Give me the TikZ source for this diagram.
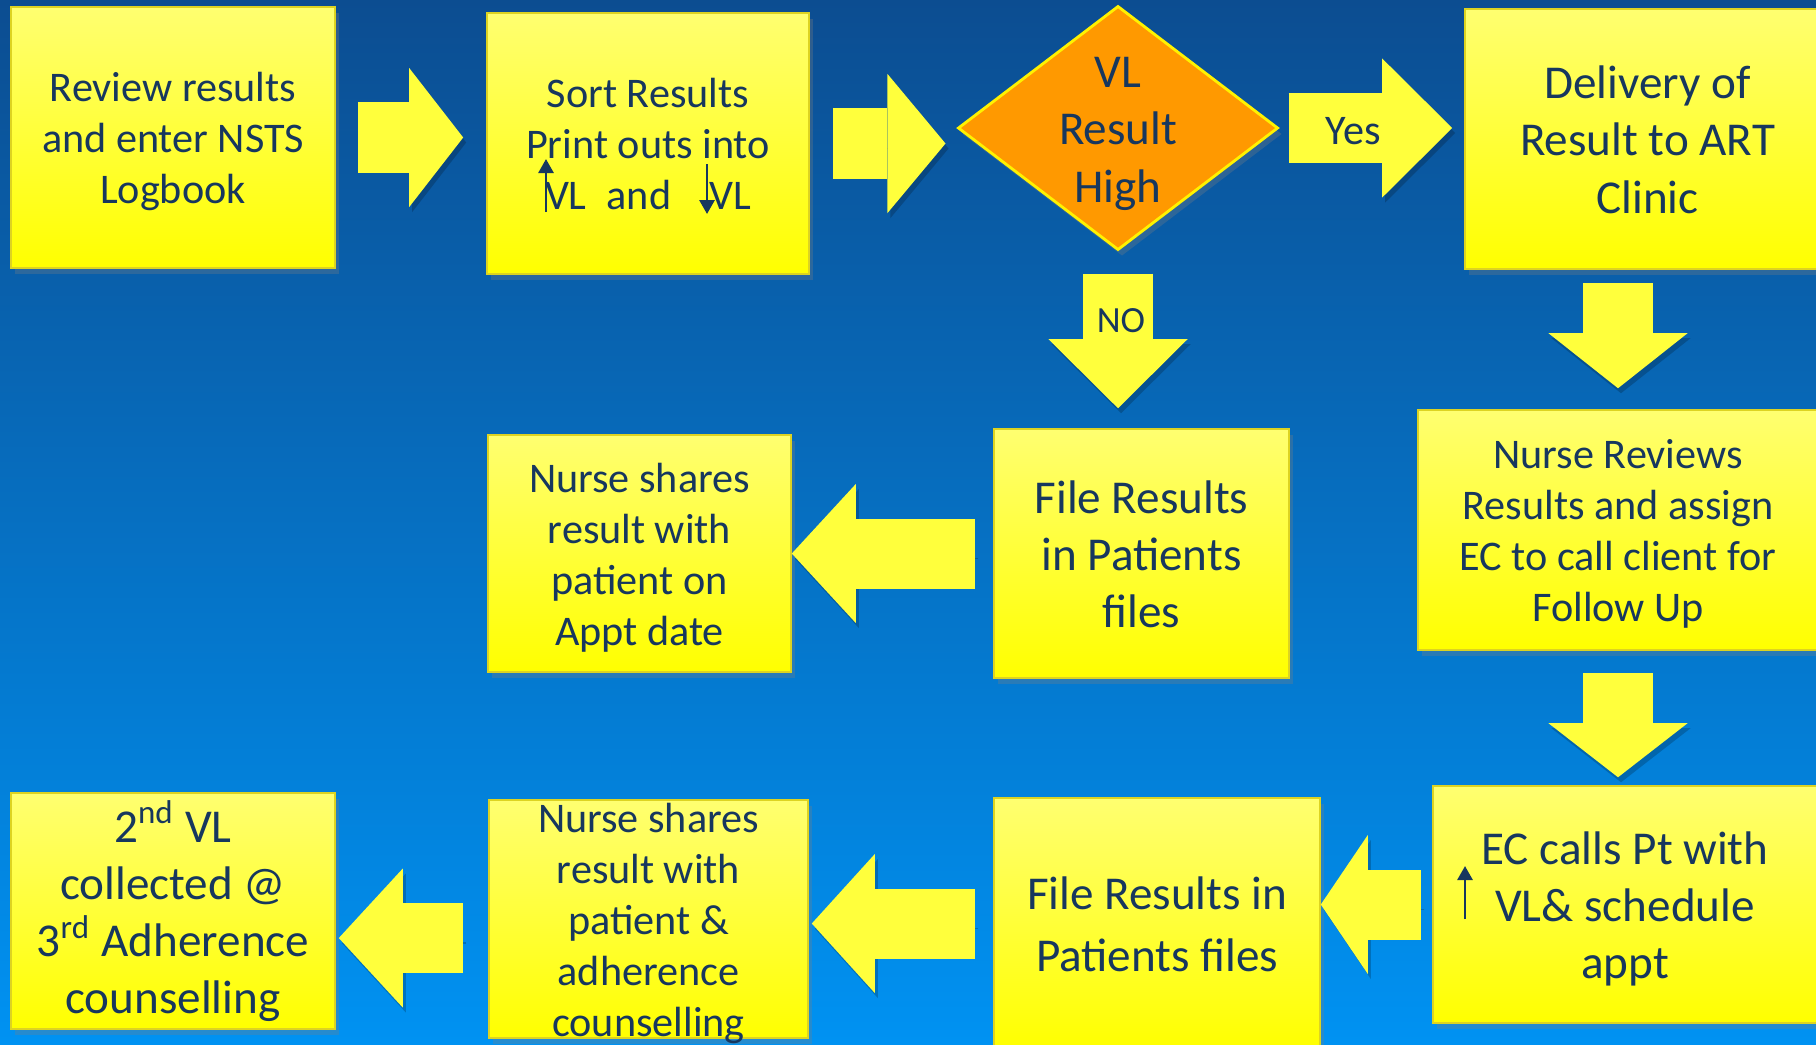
\documentclass[tikz,border=0pt]{standalone}
\usepackage{fontspec}
\setmainfont{Carlito}
\usetikzlibrary{shapes.geometric, arrows.meta, shadows, calc}

\definecolor{bgtop}{HTML}{0C4D91}
\definecolor{bgbot}{HTML}{0092F2}
\definecolor{boxtop}{HTML}{FFFF70}
\definecolor{boxbot}{HTML}{FFFF00}
\definecolor{arryel}{HTML}{FFFF3C}
\definecolor{decfill}{HTML}{FF9900}
\definecolor{navy}{HTML}{17375E}

\newcommand{\smallsz}{\fontsize{12}{14.5}\selectfont}
\newcommand{\bigsz}{\fontsize{13.4}{16.3}\selectfont}
% strut so that every text block is centred on whole line boxes
\newcommand{\ls}{\rule[-0.25em]{0pt}{1.22em}}

\begin{document}
\begin{tikzpicture}[
        x=0.01cm, y=-0.01cm,
        procbox/.style={draw=yellow!85!black, line width=0.4pt, top color=boxtop, bottom color=boxbot,
            text=navy, align=center, inner sep=0pt,
            drop shadow={shadow xshift=0.4mm, shadow yshift=-0.6mm, opacity=0.3}},
        blockarrow/.style={draw=arryel, line width=7mm,
            -{Triangle[length=#1, width=13.9mm, line width=0pt]},
            preaction={draw=black, opacity=0.2, transform canvas={xshift=0.3mm, yshift=-0.5mm}}}
        ]
    % Define styles
    \tikzstyle{decbox} = [diamond, draw=yellow, line width=0.8pt, fill=decfill, inner sep=0pt,
        drop shadow={shadow xshift=0.4mm, shadow yshift=-0.6mm, opacity=0.3}]
    \tikzstyle{thinarrow} = [draw=navy, line width=0.8pt, -{Triangle[length=1.4mm, width=1.5mm]}]

    % Background
    \clip (0, 0) rectangle (1816, 1044);
    \shade[top color=bgtop, bottom color=bgbot] (0, 0) rectangle (1816, 1044);

    % Define top row nodes
    \node[procbox, minimum width=32.4mm, minimum height=26.1mm, font=\smallsz] (rev) at (173, 137.5) {\ls Review results\\and enter NSTS\\Logbook\ls};
    \node[procbox, minimum width=32.2mm, minimum height=26.1mm, font=\smallsz] (sortres) at (648, 143.5) {\ls Sort Results\\Print outs into\\VL\hspace{2mm}and\hspace{3.8mm}VL\ls};
    \node[decbox, minimum width=32mm, minimum height=24.4mm,
        label={[font=\bigsz, text=navy, align=center]center:{\ls VL\\Result\\High\ls}}] (vlhigh) at (1118, 128) {};
    \node[procbox, minimum width=36.5mm, minimum height=26mm, font=\bigsz] (deliv) at (1647.5, 139) {\ls Delivery of\\Result to ART\\Clinic\ls};

    % Define middle row nodes
    \node[procbox, minimum width=30.3mm, minimum height=23.7mm, font=\smallsz] (sharemid) at (639.5, 553.5) {\ls Nurse shares\\result with\\patient on\\Appt date\ls};
    \node[procbox, minimum width=29.5mm, minimum height=24.9mm, font=\bigsz] (filemid) at (1141.5, 553.5) {\ls File Results\\in Patients\\files\ls};
    \node[procbox, minimum width=40mm, minimum height=24mm, font=\smallsz] (nrevw) at (1618, 530) {\ls Nurse Reviews\\Results and assign\\EC to call client for\\Follow Up\ls};

    % Define bottom row nodes
    \node[procbox, minimum width=32.4mm, minimum height=23.6mm, font=\bigsz] (vltwo) at (173, 911) {\ls 2\textsuperscript{nd} VL\\collected @\\3\textsuperscript{rd} Adherence\\counselling\ls};
    \node[procbox, minimum width=31.9mm, minimum height=23.8mm,
        label={[font=\smallsz, text=navy, align=center]center:{\ls Nurse shares\\result with\\patient \&\\adherence\\counselling\ls}}] (sharebot) at (648.5, 919) {};
    \node[procbox, minimum width=32.6mm, minimum height=25.1mm, font=\bigsz] (filebot) at (1157, 923.5) {\ls File Results in\\Patients files\ls};
    \node[procbox, minimum width=38.4mm, minimum height=23.7mm, font=\bigsz] (eccall) at (1625, 904.5) {\ls EC calls Pt with\\VL\& schedule\\appt\ls};

    % Draw block arrows between the steps
    \draw[blockarrow=5.4mm, shorten <=2.2mm, shorten >=2.3mm] (rev.east) -- (rev.east -| sortres.west);
    \draw[blockarrow=5.8mm, shorten <=2.3mm, shorten >=1.1mm] (sortres.east) -- (sortres.east -| vlhigh.west);
    \draw[blockarrow=7mm, shorten <=0.9mm, shorten >=1.2mm] (vlhigh.east) -- (vlhigh.east -| deliv.west);
    \draw[blockarrow=6.9mm, shorten <=2.2mm, shorten >=2mm] (vlhigh.south) -- (vlhigh.south |- filemid.north);
    \draw[blockarrow=5.5mm, shorten <=1.3mm, shorten >=2.1mm] (nrevw.north |- deliv.south) -- (nrevw.north);
    \draw[blockarrow=6.4mm, shorten <=1.8mm, shorten >=0mm] (filemid.west) -- (filemid.west -| sharemid.east);
    \draw[blockarrow=5.4mm, shorten <=2.2mm, shorten >=0.8mm] (nrevw.south) -- (nrevw.south |- eccall.north);
    \draw[blockarrow=4.7mm, shorten <=1.1mm, shorten >=0mm] (eccall.west) -- (eccall.west -| filebot.east);
    \draw[blockarrow=6.3mm, shorten <=1.8mm, shorten >=0.3mm] (filebot.west) -- (filebot.west -| sharebot.east);
    \draw[blockarrow=6.4mm, shorten <=2.5mm, shorten >=0.3mm] ([yshift=-1.9mm]sharebot.west) -- ([yshift=-1.9mm]sharebot.west -| vltwo.east);

    % Labels on the decision arrows
    \node[font=\smallsz, text=navy] (yes) at (1353, 131) {Yes};
    \node[font=\fontsize{10.5}{12}\selectfont, text=navy] (no) at (1121, 321) {NO};

    % Small up and down arrows in the text
    \coordinate (upA) at ($(sortres.center)+(-102, 68.5)$);
    \coordinate (upB) at ($(sortres.center)+(-102, 15.5)$);
    \coordinate (dnA) at ($(sortres.center)+(59, 20.5)$);
    \coordinate (dnB) at ($(sortres.center)+(59, 70.5)$);
    \coordinate (ecA) at ($(eccall.center)+(-160, 14.5)$);
    \coordinate (ecB) at ($(eccall.center)+(-160, -38.5)$);
    \draw[thinarrow] (upA) -- (upB);
    \draw[thinarrow] (dnA) -- (dnB);
    \draw[thinarrow] (ecA) -- (ecB);

\end{tikzpicture}
\end{document}
